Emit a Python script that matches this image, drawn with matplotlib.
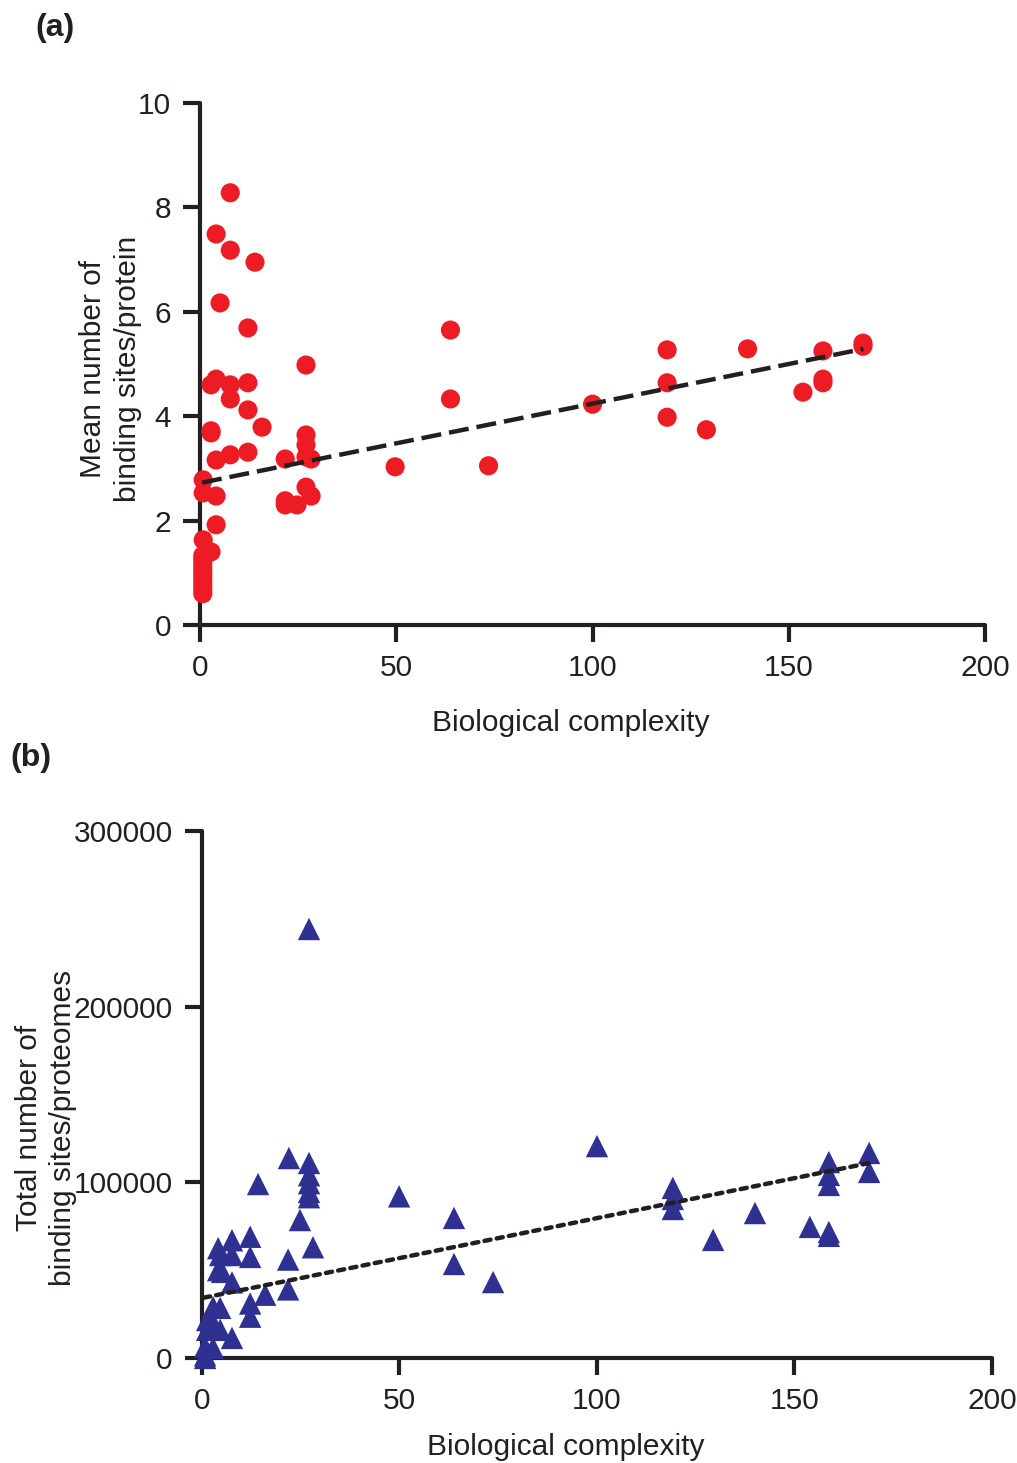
import matplotlib.pyplot as plt
import numpy as np

plt.rcParams['font.family'] = ['Liberation Sans', 'DejaVu Sans']

# (a) mean number of binding sites per protein
a_x = [7.7, 4.1, 7.7, 14.0, 5.1, 12.2, 27.0, 2.8, 4.1, 7.7, 12.2, 7.7, 12.2,
       2.8, 2.8, 15.8, 4.1, 7.7, 12.2, 21.7, 27.0, 27.0, 27.0, 28.3,
       0.8, 0.8, 4.1, 27.0, 28.3, 21.7, 21.7, 24.7, 4.1, 0.8, 2.8,
       0.7, 0.7, 0.7, 0.7, 0.7, 0.7, 0.7, 0.7, 0.7, 0.7,
       49.7, 63.8, 63.8, 73.5, 100.0, 119.0, 119.0, 119.0, 129.0, 139.5,
       153.6, 158.7, 158.7, 158.7, 168.9, 168.9]
a_y = [8.28, 7.49, 7.18, 6.95, 6.17, 5.69, 4.98, 4.60, 4.71, 4.60, 4.64, 4.33, 4.12,
       3.72, 3.68, 3.79, 3.16, 3.26, 3.31, 3.18, 3.64, 3.45, 3.22, 3.18,
       2.78, 2.53, 2.47, 2.64, 2.47, 2.38, 2.30, 2.30, 1.92, 1.63, 1.40,
       0.60, 0.68, 0.76, 0.85, 0.93, 1.00, 1.08, 1.16, 1.25, 1.33,
       3.03, 5.65, 4.33, 3.05, 4.23, 5.27, 4.64, 3.98, 3.74, 5.29,
       4.46, 5.25, 4.71, 4.64, 5.40, 5.34]
a_fit = (2.72, 0.0152)   # intercept, slope
a_fit_x = [0.5, 169.0]

# (b) total number of binding sites per proteome
b_x = [27.1, 22.0, 27.1, 27.1, 27.1, 27.1, 27.1, 14.2, 24.8, 28.1, 21.8, 21.8,
       16.0, 12.2, 12.2, 12.2, 12.2, 7.6, 7.6, 4.1, 4.6, 4.1, 5.1, 7.6,
       2.8, 4.6, 1.3, 2.8, 1.3, 4.6, 7.6, 0.8, 2.8, 0.8, 0.8,
       49.9, 63.8, 63.8, 73.7, 100.0, 119.2, 119.2, 119.2, 129.4, 140.0,
       153.9, 158.7, 158.7, 158.7, 158.7, 158.7, 168.9, 168.9]
b_y = [244200, 113800, 111000, 104000, 99500, 94500, 91500, 99000, 78500, 63000, 56000, 39000,
       36000, 69000, 57500, 31000, 23500, 67000, 58600, 62500, 58600, 50000, 49000, 43000,
       29000, 28500, 21600, 20000, 16000, 16000, 11400, 6300, 5700, 1500, 0,
       92000, 79700, 53500, 43200, 120600, 96800, 90500, 84800, 67200, 82500,
       74600, 111500, 104200, 98500, 71700, 69500, 116700, 105900]
b_fit = (34100, 455.0)
b_fit_x = [0.5, 169.0]

red = '#ED1C24'
blue = '#2E3192'
ink = '#231F20'
FS = 21.5

fig = plt.figure(figsize=(10.17, 14.63), dpi=100)
ax1 = fig.add_axes([0.1967, 0.5728, 0.7719, 0.3568])
ax2 = fig.add_axes([0.1986, 0.0718, 0.7768, 0.3602])


def style_axes(ax):
    for s in ['top', 'right']:
        ax.spines[s].set_visible(False)
    for s in ['left', 'bottom']:
        ax.spines[s].set_linewidth(3)
        ax.spines[s].set_color(ink)
        ax.spines[s].set_capstyle('round')
    ax.tick_params(length=12, width=3, color=ink, labelsize=FS,
                   labelcolor=ink, pad=9)


# panel (a)
ax1.scatter(a_x, a_y, s=190, color=red, edgecolors='none', zorder=3, clip_on=False)
fx = np.array(a_fit_x)
ax1.plot(fx, a_fit[0] + a_fit[1] * fx, color=ink, lw=3.2,
         dashes=(4.5, 1.8), zorder=4)
ax1.set_xlim(0, 200)
ax1.set_ylim(0, 10)
ax1.set_xticks([0, 50, 100, 150, 200])
ax1.set_yticks([0, 2, 4, 6, 8, 10])
style_axes(ax1)
ax1.set_xlabel('Biological complexity', fontsize=FS, color=ink)
ax1.xaxis.set_label_coords(0.472, -0.160)
ax1.set_ylabel('Mean number of\nbinding sites/protein', fontsize=FS,
               color=ink, linespacing=1.3)
ax1.yaxis.set_label_coords(-0.074, 0.49)

# panel (b)
ax2.scatter(b_x, b_y, s=260, marker='^', color=blue, edgecolors='none',
            zorder=3, clip_on=False)
fx = np.array(b_fit_x)
ax2.plot(fx, b_fit[0] + b_fit[1] * fx, color=ink, lw=3.2,
         dashes=(1.4, 1.4), dash_capstyle='round', zorder=4)
ax2.set_xlim(0, 200)
ax2.set_ylim(0, 300000)
ax2.set_xticks([0, 50, 100, 150, 200])
ax2.set_yticks([0, 100000, 200000, 300000])
ax2.set_yticklabels(['0', '100000', '200000', '300000'])
style_axes(ax2)
ax2.set_xlabel('Biological complexity', fontsize=FS, color=ink)
ax2.xaxis.set_label_coords(0.460, -0.143)
ax2.set_ylabel('Total number of\nbinding sites/proteomes', fontsize=FS,
               color=ink, linespacing=1.3)
ax2.yaxis.set_label_coords(-0.158, 0.436)

fig.text(35 / 1017, 1 - 28 / 1463, '(a)', fontsize=23, fontweight='bold',
         color=ink, ha='left', va='center')
fig.text(10 / 1017, 1 - 758 / 1463, '(b)', fontsize=23, fontweight='bold',
         color=ink, ha='left', va='center')

fig.savefig('out.png', dpi=100)
